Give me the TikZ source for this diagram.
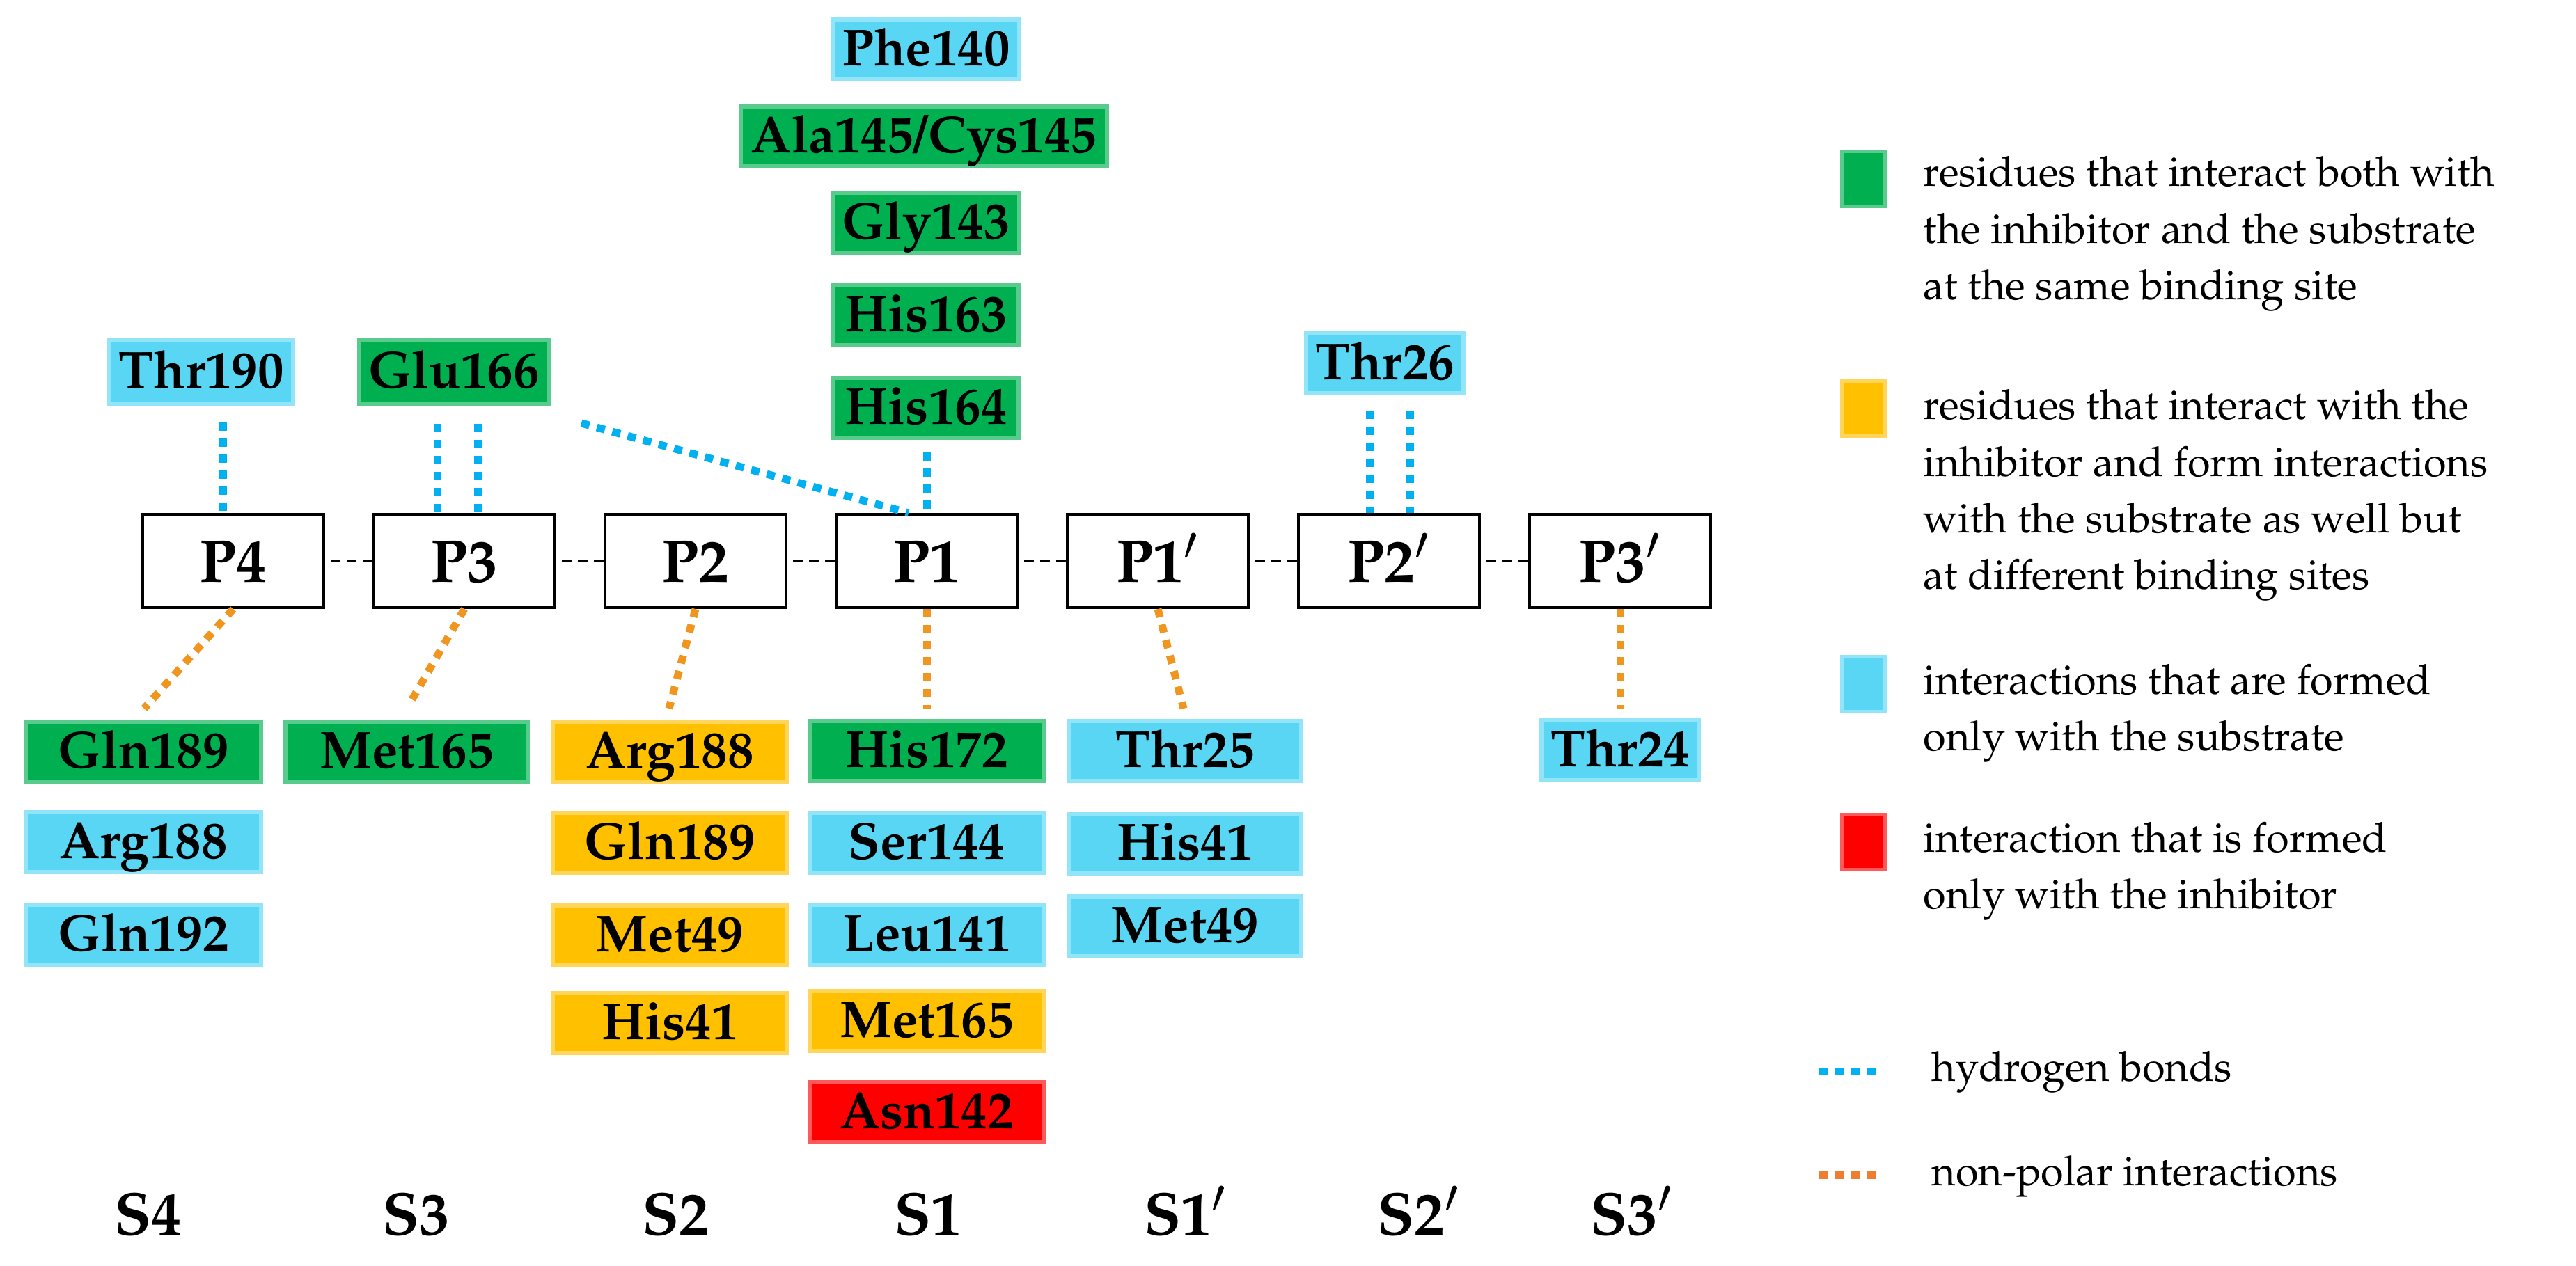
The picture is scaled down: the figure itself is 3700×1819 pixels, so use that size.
\documentclass[tikz,border=0pt]{standalone}
\usepackage[T1]{fontenc}
\usepackage{mathpazo}
\definecolor{resgreen}{HTML}{00B050}
\definecolor{resyellow}{HTML}{FFC000}
\definecolor{rescyan}{HTML}{58D6F4}
\definecolor{resred}{HTML}{FF0000}
\definecolor{hbblue}{HTML}{00B0F0}
\definecolor{nporange}{HTML}{F0961E}
\definecolor{legorange}{HTML}{ED7D31}
\newcommand\resfont{\bfseries\fontsize{21.3}{24}\selectfont}
\newcommand\pfont{\bfseries\fontsize{24.7}{28}\selectfont}
\newcommand\legfont{\fontsize{16.9}{23.1}\selectfont}
\newcommand\primemark{\ensuremath{'}}
\tikzset{
  res/.style={rectangle, inner sep=0pt, minimum height=0.86cm,
    text height=0.50cm, text depth=0.04cm, font=\resfont,
    fill=#1, draw=#1!65, line width=0.06cm},
  pbox/.style={rectangle, draw=black, line width=0.04cm, fill=white,
    minimum width=2.60cm, minimum height=1.34cm, inner sep=0pt,
    text height=0.60cm, text depth=0cm, font=\pfont},
  slabel/.style={anchor=base, inner sep=0pt, font=\pfont},
  hb/.style={draw=hbblue, line width=0.11cm, dash pattern=on 0.12cm off 0.11cm},
  np/.style={draw=nporange, line width=0.11cm, dash pattern=on 0.12cm off 0.11cm},
  npleg/.style={draw=legorange, line width=0.11cm, dash pattern=on 0.12cm off 0.11cm},
  link/.style={draw=black, line width=0.03cm, dash pattern=on 0.14cm off 0.09cm, dash phase=0.15cm},
  legsq/.style={rectangle, inner sep=0pt, minimum width=0.62cm, minimum height=0.79cm,
    fill=#1, draw=#1!65, line width=0.05cm},
  legtext/.style={anchor=base west, inner sep=0pt, font=\legfont}
}
\begin{document}
\begin{tikzpicture}[x=0.01cm, y=-0.01cm]
\useasboundingbox (0,0) rectangle (3700,1819);
\fill[white] (0,0) rectangle (3700,1819);

% ---------- P row ----------
\node[pbox] (p4)  at (335,806)  {P4};
\node[pbox] (p3)  at (667,806)  {P3};
\node[pbox] (p2)  at (999,806)  {P2};
\node[pbox] (p1)  at (1331,806) {P1};
\node[pbox] (p1p) at (1663,806) {P1\primemark};
\node[pbox] (p2p) at (1995,806) {P2\primemark};
\node[pbox] (p3p) at (2327,806) {P3\primemark};
\draw[link] (p4) -- (p3);
\draw[link] (p3) -- (p2);
\draw[link] (p2) -- (p1);
\draw[link] (p1) -- (p1p);
\draw[link] (p1p) -- (p2p);
\draw[link] (p2p) -- (p3p);

% ---------- residues above ----------
\node[res=rescyan,  minimum width=2.68cm] (phe140) at (1330,71)  {Phe140};
\node[res=resgreen, minimum width=5.26cm] (ala145) at (1327,196) {Ala145/Cys145};
\node[res=resgreen, minimum width=2.68cm] (gly143) at (1330,320) {Gly143};
\node[res=resgreen, minimum width=2.66cm] (his163) at (1330,453) {His163};
\node[res=resgreen, minimum width=2.66cm] (his164) at (1330,586) {His164};
\node[res=rescyan,  minimum width=2.64cm, minimum height=0.92cm] (thr190) at (289,534) {Thr190};
\node[res=resgreen, minimum width=2.71cm, minimum height=0.92cm] (glu166) at (652,534) {Glu166};
\node[res=rescyan,  minimum width=2.26cm] (thr26) at (1989,522) {Thr26};

% ---------- residues below ----------
% S4
\node[res=resgreen, minimum width=3.37cm] (gln189a) at (206,1080) {Gln189};
\node[res=rescyan,  minimum width=3.37cm] (arg188a) at (206,1210) {Arg188};
\node[res=rescyan,  minimum width=3.37cm] (gln192)  at (206,1343) {Gln192};
% S3
\node[res=resgreen, minimum width=3.47cm] (met165a) at (584,1080) {Met165};
% S2
\node[res=resyellow, minimum width=3.35cm] (arg188b) at (962,1080) {Arg188};
\node[res=resyellow, minimum width=3.35cm] (gln189b) at (962,1211) {Gln189};
\node[res=resyellow, minimum width=3.35cm] (met49a)  at (962,1344) {Met49};
\node[res=resyellow, minimum width=3.35cm] (his41a)  at (962,1470) {His41};
% S1
\node[res=resgreen,  minimum width=3.35cm] (his172)  at (1331,1079) {His172};
\node[res=rescyan,   minimum width=3.35cm] (ser144)  at (1331,1211) {Ser144};
\node[res=rescyan,   minimum width=3.35cm] (leu141)  at (1331,1343) {Leu141};
\node[res=resyellow, minimum width=3.35cm] (met165b) at (1331,1467) {Met165};
\node[res=resred,    minimum width=3.35cm] (asn142)  at (1331,1598) {Asn142};
% S1'
\node[res=rescyan, minimum width=3.34cm] (thr25)  at (1702,1079) {Thr25};
\node[res=rescyan, minimum width=3.34cm] (his41b) at (1702,1212) {His41};
\node[res=rescyan, minimum width=3.34cm] (met49b) at (1702,1331) {Met49};
% S3'
\node[res=rescyan, minimum width=2.25cm] (thr24) at (2327,1078) {Thr24};

% ---------- hydrogen bonds (blue) ----------
\coordinate (hb4)  at (320,607);
\coordinate (hb3a) at (628,609);
\coordinate (hb3b) at (686,609);
\coordinate (hbd)  at (835,608);
\coordinate (hb1)  at (1331,650);
\coordinate (hb2a) at (1967,590);
\coordinate (hb2b) at (2025,590);
\draw[hb] (hb4)  -- (hb4 |- p4.north);
\draw[hb] (hb3a) -- (hb3a |- p3.north);
\draw[hb] (hb3b) -- (hb3b |- p3.north);
\draw[hb] (hbd)  -- ([xshift=-0.26cm]p1.north);
\draw[hb] (hb1)  -- (p1.north);
\draw[hb] (hb2a) -- (hb2a |- p2p.north);
\draw[hb] (hb2b) -- (hb2b |- p2p.north);

% ---------- non-polar interactions (orange) ----------
\coordinate (np4)  at (207,1018);
\coordinate (np3)  at (589,1010);
\coordinate (np2)  at (961,1018);
\coordinate (np1)  at (1331,1018);
\coordinate (np1p) at (1700,1018);
\coordinate (np3p) at (2327,1018);
\draw[np] (p4.south)  -- (np4);
\draw[np] (p3.south)  -- (np3);
\draw[np] (p2.south)  -- (np2);
\draw[np] (p1.south)  -- (np1);
\draw[np] (p1p.south) -- (np1p);
\draw[np] (p3p.south) -- (np3p);

% ---------- S labels ----------
\node[slabel] (s4)  at (213,1774)  {S4};
\node[slabel] (s3)  at (598,1774)  {S3};
\node[slabel] (s2)  at (971,1774)  {S2};
\node[slabel] (s1)  at (1333,1774) {S1};
\node[slabel] (s1p) at (1703,1774) {S1\primemark};
\node[slabel] (s2p) at (2038,1774) {S2\primemark};
\node[slabel] (s3p) at (2344,1774) {S3\primemark};

% ---------- legend ----------
\node[legsq=resgreen]  (lsq1) at (2676,257)  {};
\node[legsq=resyellow] (lsq2) at (2676,587)  {};
\node[legsq=rescyan]   (lsq3) at (2676,983)  {};
\node[legsq=resred]    (lsq4) at (2676,1210) {};
\node[legtext] (lt1) at (2762,268)  {\parbox[t]{12cm}{residues that interact both with\\the inhibitor and the substrate\\at the same binding site}};
\node[legtext] (lt2) at (2762,603)  {\parbox[t]{12cm}{residues that interact with the\\inhibitor and form interactions\\with the substrate as well but\\at different binding sites}};
\node[legtext] (lt3) at (2762,997)  {\parbox[t]{12cm}{interactions that are formed\\only with the substrate}};
\node[legtext] (lt4) at (2762,1224) {\parbox[t]{12cm}{interaction that is formed\\only with the inhibitor}};
\coordinate (lhbA) at (2613,1539);
\coordinate (lhbB) at (2698,1539);
\coordinate (lnpA) at (2613,1688);
\coordinate (lnpB) at (2698,1688);
\draw[hb] (lhbA) -- (lhbB);
\draw[npleg] (lnpA) -- (lnpB);
\node[legtext] (lt5) at (2774,1553) {hydrogen bonds};
\node[legtext] (lt6) at (2774,1703) {non-polar interactions};
\end{tikzpicture}
\end{document}
